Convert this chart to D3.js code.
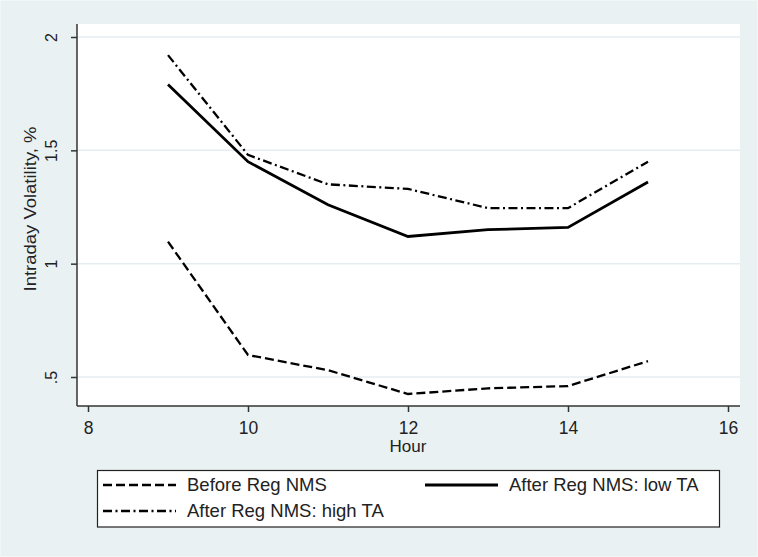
<!DOCTYPE html>
<html>
<head>
<meta charset="utf-8">
<script src="https://cdn.jsdelivr.net/npm/d3@7"></script>
<style>
  body { margin: 0; background: #eaf2f3; }
  svg { display: block; font-family: "Liberation Sans", Arial, sans-serif; }
</style>
</head>
<body>
<svg id="chart" width="758" height="557"></svg>
<script>
const hours = [9, 10, 11, 12, 13, 14, 15];
const beforeRegNMS = [1.097, 0.597, 0.53, 0.425, 0.45, 0.46, 0.57];
const afterLowTA = [1.79, 1.45, 1.26, 1.12, 1.15, 1.16, 1.36];
const afterHighTA = [1.92, 1.48, 1.35, 1.33, 1.245, 1.245, 1.45];
const xTicks = [8, 10, 12, 14, 16];
const yTicks = [0.5, 1, 1.5, 2];
const yTickLabels = [".5", "1", "1.5", "2"];

const series = [
  { name: "Before Reg NMS", values: beforeRegNMS, dash: "9,4", width: 2.3 },
  { name: "After Reg NMS: low TA", values: afterLowTA, dash: null, width: 2.8 },
  { name: "After Reg NMS: high TA", values: afterHighTA, dash: "9,3.5,2,3.5", width: 2.3 }
];

const svg = d3.select("#chart");
const plot = { left: 77, right: 740, top: 24, bottom: 406 };

svg.append("rect")
  .attr("x", 0.5).attr("y", 0.5)
  .attr("width", 757).attr("height", 556)
  .attr("fill", "#e9f1f3").attr("stroke", "#f2f6f7");

svg.append("rect")
  .attr("x", plot.left).attr("y", plot.top)
  .attr("width", plot.right - plot.left)
  .attr("height", plot.bottom - plot.top)
  .attr("fill", "#fff");

const x = d3.scaleLinear().domain([8, 16]).range([88, 728]);
const y = d3.scaleLinear().domain([0.5, 2]).range([377, 37]);

// gridlines
svg.append("g")
  .selectAll("line")
  .data(yTicks)
  .enter()
  .append("line")
  .attr("x1", plot.left).attr("x2", plot.right)
  .attr("y1", d => y(d)).attr("y2", d => y(d))
  .attr("stroke", "#e4edf0")
  .attr("stroke-width", 1.5);

// y axis
const yAxis = svg.append("g")
  .attr("transform", `translate(${plot.left},0)`)
  .call(d3.axisLeft(y).tickValues(yTicks).tickSize(6).tickFormat((d, i) => yTickLabels[i]));
yAxis.select(".domain").attr("d", `M0,${plot.top}V${plot.bottom}`).attr("stroke", "#333").attr("stroke-width", 1.5);
yAxis.selectAll(".tick line").attr("stroke", "#333").attr("stroke-width", 1.5);
yAxis.selectAll(".tick text")
  .attr("x", null).attr("dy", null)
  .attr("text-anchor", "middle")
  .attr("transform", "translate(-20,0) rotate(-90)")
  .style("font-size", "16px")
  .attr("fill", "#222");

// x axis
const xAxis = svg.append("g")
  .attr("transform", `translate(0,${plot.bottom})`)
  .call(d3.axisBottom(x).tickValues(xTicks).tickSize(6).tickFormat(d3.format("d")));
xAxis.select(".domain").attr("d", `M${plot.left},0H${plot.right}`).attr("stroke", "#333").attr("stroke-width", 1.5);
xAxis.selectAll(".tick line").attr("stroke", "#333").attr("stroke-width", 1.5);
xAxis.selectAll(".tick text")
  .attr("y", 28).attr("dy", null)
  .style("font-size", "17.5px")
  .attr("fill", "#222");

svg.append("text")
  .attr("x", x(12)).attr("y", 452)
  .attr("text-anchor", "middle")
  .style("font-size", "17px")
  .attr("fill", "#222")
  .text("Hour");

svg.append("text")
  .attr("transform", "translate(36,209) rotate(-90)")
  .attr("text-anchor", "middle")
  .attr("textLength", 165)
  .attr("lengthAdjust", "spacingAndGlyphs")
  .style("font-size", "17px")
  .attr("fill", "#222")
  .text("Intraday Volatility, %");

// lines
const line = d3.line()
  .x((d, i) => x(hours[i]))
  .y(d => y(d));

svg.append("g")
  .selectAll("path")
  .data(series)
  .enter()
  .append("path")
  .attr("d", d => line(d.values))
  .attr("fill", "none")
  .attr("stroke", "#000")
  .attr("stroke-width", d => d.width)
  .attr("stroke-dasharray", d => d.dash);

// legend
const legend = svg.append("g");
legend.append("rect")
  .attr("x", 97.5).attr("y", 470.5)
  .attr("width", 622).attr("height", 56.5)
  .attr("fill", "#fff")
  .attr("stroke", "#222")
  .attr("stroke-width", 1.2);

const legendPos = [
  { x: 103, y: 485 },
  { x: 425, y: 485 },
  { x: 103, y: 511 }
];
const items = legend.selectAll("g.item")
  .data(series)
  .enter()
  .append("g")
  .attr("class", "item")
  .attr("transform", (d, i) => `translate(${legendPos[i].x},${legendPos[i].y})`);
items.append("line")
  .attr("x1", 0).attr("x2", 73)
  .attr("stroke", "#000")
  .attr("stroke-width", d => d.width)
  .attr("stroke-dasharray", d => d.dash);
items.append("text")
  .attr("x", 84).attr("dy", "0.35em")
  .style("font-size", "18.5px")
  .attr("fill", "#222")
  .text(d => d.name);
</script>
</body>
</html>
